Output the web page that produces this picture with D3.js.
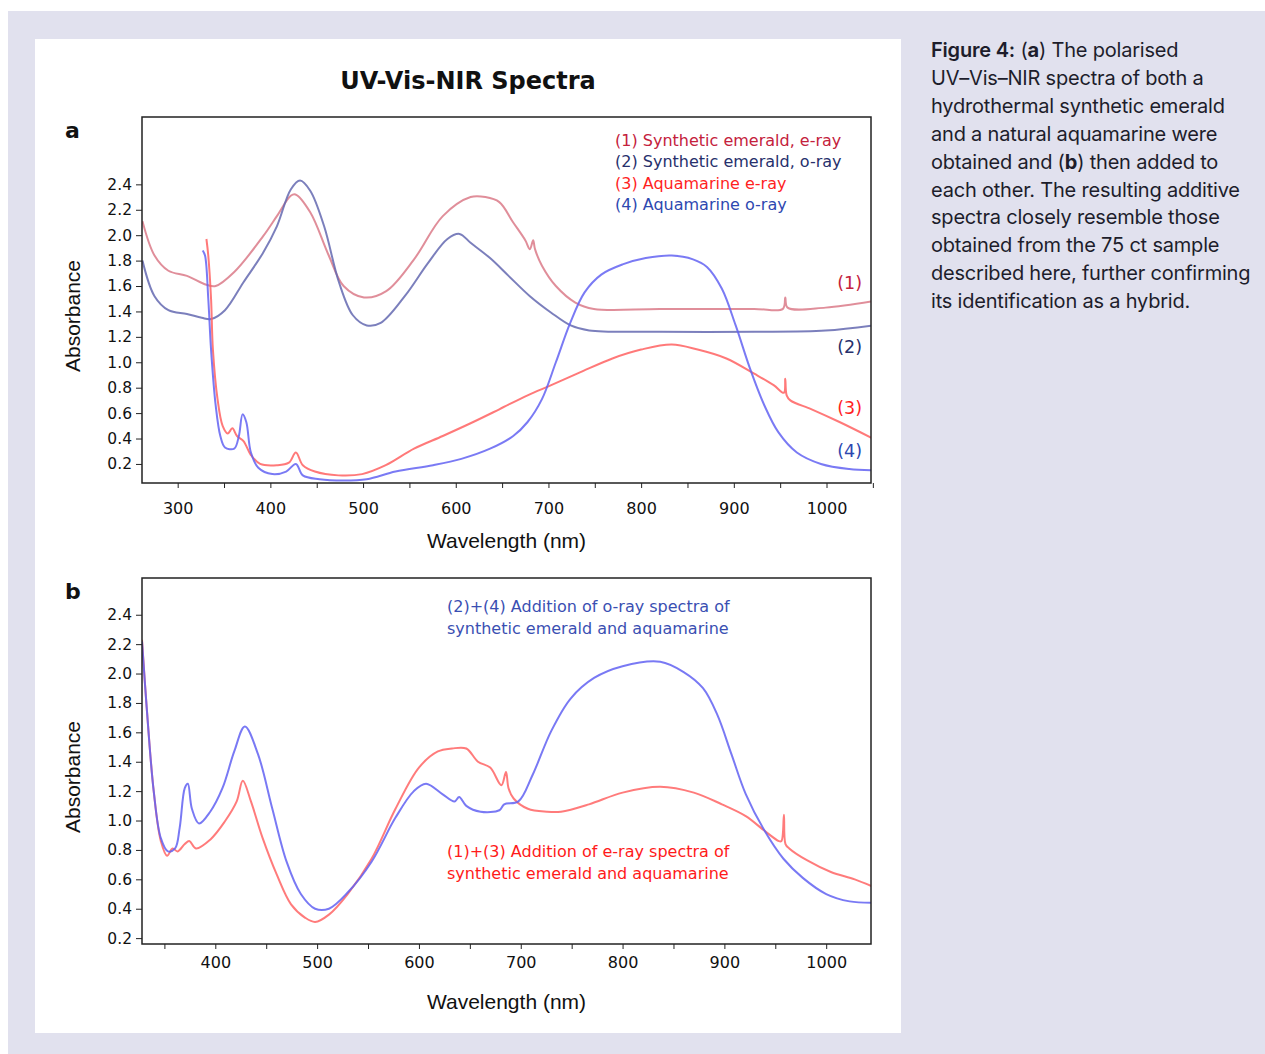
<!DOCTYPE html>
<html>
<head>
<meta charset="utf-8">
<script src="https://cdn.jsdelivr.net/npm/d3@7"></script>
<style>
  html, body { margin: 0; padding: 0; background: #ffffff; }
  svg { display: block; }
</style>
</head>
<body>
<svg id="chart" width="1265" height="1054"></svg>
<script>
// ---------------- DATA ----------------
// Panel a: (1) Synthetic emerald, e-ray
const waveA1 = [262,275,290,310,331,341,361,392,407,422,427,443,463,479,501,525,555,586,616,632,647,662,675,680,683.5,685.5,693,708,729,749,820,922,953,955.5,958,999,1050];
const absA1  = [2.11,1.84,1.72,1.68,1.61,1.60,1.71,1.99,2.15,2.31,2.32,2.18,1.84,1.60,1.51,1.56,1.81,2.15,2.30,2.30,2.26,2.10,1.96,1.89,1.96,1.89,1.76,1.60,1.47,1.42,1.42,1.42,1.42,1.51,1.43,1.43,1.48];
// (2) Synthetic emerald, o-ray
const waveA2 = [262,275,290,310,326,336,351,371,392,407,422,432,443,458,474,489,504,519,545,570,591,604,616,637,657,680,703,724,744,820,922,999,1050];
const absA2  = [1.80,1.52,1.41,1.38,1.35,1.34,1.41,1.63,1.86,2.07,2.36,2.43,2.35,2.07,1.63,1.37,1.29,1.31,1.52,1.78,1.97,2.01,1.94,1.82,1.68,1.52,1.39,1.29,1.25,1.24,1.24,1.25,1.29];
// (3) Aquamarine e-ray
const waveA3 = [331,333,336,338,343,348.5,354,359,364,371,379,389,407,420,427.5,435,448,473.5,499,524.5,555,586,616,647,677.5,703,734,769,800,833,861,892,922,943,954,955.5,957,961,984,1014,1050];
const absA3  = [1.97,1.84,1.50,1.10,0.71,0.50,0.44,0.48,0.42,0.38,0.27,0.20,0.19,0.21,0.29,0.19,0.14,0.11,0.12,0.19,0.32,0.42,0.52,0.63,0.74,0.82,0.92,1.03,1.10,1.14,1.10,1.03,0.91,0.82,0.76,0.87,0.74,0.70,0.63,0.53,0.40];
// (4) Aquamarine o-ray
const waveA4 = [327,329.5,333,336,341,346,351,361,366,370,374,379,387,402,417,427.5,435,453,478.5,504,535,575.5,606,637,662,677.5,693,708,723.5,739,757,780,805,833,856,871,887,902,917.5,933,948,968,994,1024.5,1050];
const absA4  = [1.88,1.84,1.50,1.10,0.66,0.42,0.33,0.32,0.42,0.59,0.53,0.29,0.17,0.12,0.14,0.20,0.11,0.08,0.07,0.08,0.14,0.19,0.24,0.32,0.42,0.53,0.71,1.00,1.31,1.55,1.69,1.77,1.82,1.84,1.81,1.75,1.58,1.29,0.95,0.66,0.45,0.29,0.20,0.16,0.15];

// Panel b: (2)+(4) o-ray sum
const waveBo = [328,332.6,339.5,346.5,353.5,360.5,365,370,373,377,384,395,407,418.6,429,442,456,470,484,498,511.6,530,553.5,577,595,607,623,635,639.5,646.5,660.5,679,683.7,697.7,711.6,730,749,772,800,837,860,879,893,907,921,939.5,958,977,1000,1023,1046];
const absBo  = [2.22,1.77,1.20,0.88,0.79,0.81,0.95,1.22,1.25,1.08,0.98,1.06,1.22,1.47,1.64,1.45,1.08,0.72,0.50,0.40,0.40,0.51,0.72,1.02,1.20,1.25,1.18,1.13,1.16,1.10,1.06,1.07,1.11,1.13,1.31,1.61,1.83,1.97,2.05,2.08,2.01,1.90,1.72,1.45,1.18,0.93,0.74,0.61,0.50,0.45,0.44];
// (1)+(3) e-ray sum
const waveBe = [328,332.6,339.5,346.5,352.6,358,363,370,374.4,381,395,409,421,427,435,446.5,460.5,474.4,488,498,511.6,530,553.5,577,600,618.6,632.5,646.5,658,670,681,685.5,688,693,707,725.6,739.5,767,800,837,870,897.6,921,939.5,953.5,956,958.5,960,963.7,981,1004.6,1028,1046];
const absBe  = [2.23,1.77,1.20,0.86,0.76,0.81,0.79,0.84,0.86,0.81,0.87,0.99,1.13,1.27,1.13,0.88,0.63,0.43,0.34,0.31,0.36,0.50,0.74,1.08,1.36,1.47,1.49,1.49,1.40,1.36,1.24,1.33,1.22,1.15,1.08,1.06,1.06,1.11,1.19,1.23,1.19,1.11,1.03,0.93,0.86,0.86,1.04,0.84,0.81,0.73,0.65,0.60,0.55];

// Ticks and labels
const yTicks = [0.2,0.4,0.6,0.8,1.0,1.2,1.4,1.6,1.8,2.0,2.2,2.4];
const xTicksA = [300,350,400,450,500,550,600,650,700,750,800,850,900,950,1000,1050];
const xTicksB = [350,400,450,500,550,600,650,700,750,800,850,900,950,1000];
const legendLabels = ["(1) Synthetic emerald, e-ray","(2) Synthetic emerald, o-ray","(3) Aquamarine e-ray","(4) Aquamarine o-ray"];
const curveTags = ["(1)","(2)","(3)","(4)"];
const noteO = ["(2)+(4) Addition of o-ray spectra of","synthetic emerald and aquamarine"];
const noteE = ["(1)+(3) Addition of e-ray spectra of","synthetic emerald and aquamarine"];
const captionLines = [
  [["Figure 4:",600],[" (",400],["a",700],[") The polarised",400]],
  [["UV–Vis–NIR spectra of both a",400]],
  [["hydrothermal synthetic emerald",400]],
  [["and a natural aquamarine were",400]],
  [["obtained and (",400],["b",700],[") then added to",400]],
  [["each other. The resulting additive",400]],
  [["spectra closely resemble those",400]],
  [["obtained from the 75 ct sample",400]],
  [["described here, further confirming",400]],
  [["its identification as a hybrid.",400]]
];

// ---------------- DRAW ----------------
const svg = d3.select("#chart");
const chartFont = "'DejaVu Sans', sans-serif";
const titleFont = "'Liberation Sans', Arial, sans-serif";

svg.append("rect").attr("x",0).attr("y",0).attr("width",1265).attr("height",1054).attr("fill","#ffffff");
svg.append("rect").attr("x",8).attr("y",11).attr("width",1257).attr("height",1043).attr("fill","#e1e1ee");
svg.append("rect").attr("x",35).attr("y",39).attr("width",866).attr("height",994).attr("fill","#ffffff");

// Title
svg.append("text").attr("x",468).attr("y",89).attr("text-anchor","middle")
  .attr("font-family",chartFont).attr("font-weight","bold").attr("font-size",24).attr("fill","#111")
  .text("UV-Vis-NIR Spectra");

const zip = (w,a) => w.map((d,i) => [d, a[i]]);

function panel(cfg) {
  const x = d3.scaleLinear().domain(cfg.xDomain).range([cfg.left, cfg.right]);
  const y = d3.scaleLinear().domain(cfg.yDomain).range([cfg.bottom, cfg.top]);
  const g = svg.append("g");
  const clipId = "clip" + cfg.id;
  svg.append("clipPath").attr("id", clipId).append("rect")
    .attr("x", cfg.left).attr("y", cfg.top).attr("width", cfg.right - cfg.left).attr("height", cfg.bottom - cfg.top);

  // y axis
  const ya = g.append("g").attr("transform", `translate(${cfg.left},0)`)
    .call(d3.axisLeft(y).tickValues(yTicks).tickSize(6).tickPadding(4).tickFormat(d3.format(".1f")));
  ya.select(".domain").remove();
  ya.selectAll("text").attr("font-family", chartFont).attr("font-size", 15.5).attr("fill", "#111");
  ya.selectAll("line").attr("stroke", "#222");

  // x axis
  const xa = g.append("g").attr("transform", `translate(0,${cfg.bottom})`)
    .call(d3.axisBottom(x).tickValues(cfg.xTicks).tickSize(5).tickPadding(cfg.xPad)
      .tickFormat(d => d % 100 === 0 ? d : ""));
  xa.select(".domain").remove();
  xa.selectAll("text").attr("font-family", chartFont).attr("font-size", 16).attr("fill", "#111");
  xa.selectAll("line").attr("stroke", "#222");

  // lines
  const line = d3.line().x(d => x(d[0])).y(d => y(d[1])).curve(d3.curveCatmullRom.alpha(0.5));
  const lg = g.append("g").attr("clip-path", `url(#${clipId})`);
  cfg.series.forEach(s => {
    lg.append("path").datum(zip(s.w, s.a)).attr("d", line)
      .attr("fill", "none").attr("stroke", s.color).attr("stroke-width", 2)
      .attr("stroke-opacity", 0.85).attr("stroke-linejoin", "round");
  });

  // frame
  g.append("rect").attr("x", cfg.left).attr("y", cfg.top)
    .attr("width", cfg.right - cfg.left).attr("height", cfg.bottom - cfg.top)
    .attr("fill", "none").attr("stroke", "#222").attr("stroke-width", 1.5);

  // axis titles
  g.append("text").attr("x", (cfg.left + cfg.right) / 2).attr("y", cfg.xTitleY).attr("text-anchor", "middle")
    .attr("font-family", titleFont).attr("font-size", 21).attr("fill", "#111").text("Wavelength (nm)");
  g.append("text").attr("transform", `translate(80,${(cfg.top + cfg.bottom) / 2 + 16}) rotate(-90)`)
    .attr("text-anchor", "middle").attr("font-family", titleFont).attr("font-size", 21).attr("fill", "#111").text("Absorbance");
  // panel letter
  g.append("text").attr("x", 65).attr("y", cfg.top + 21).attr("font-family", chartFont)
    .attr("font-weight", "bold").attr("font-size", 22).attr("fill", "#111").text(cfg.letter);
  return {x, y, g};
}

const pa = panel({
  id: "a", letter: "a", left: 142, right: 871, top: 117, bottom: 483,
  xDomain: [261.5, 1048], yDomain: [0.05, 2.93], xTicks: xTicksA, xTitleY: 548, xPad: 15,
  series: [
    {w: waveA1, a: absA1, color: "#da7a88"},
    {w: waveA2, a: absA2, color: "#6468b0"},
    {w: waveA3, a: absA3, color: "#ff6262"},
    {w: waveA4, a: absA4, color: "#6363f2"}
  ]
});

const legendColors = ["#c4213c", "#27306c", "#ff1f1f", "#2d48b0"];
legendLabels.forEach((t, i) => {
  pa.g.append("text").attr("x", 615).attr("y", 146 + i * 21.3)
    .attr("font-family", chartFont).attr("font-size", 16).attr("fill", legendColors[i]).text(t);
});
const tagY = [289, 353, 414, 457];
curveTags.forEach((t, i) => {
  pa.g.append("text").attr("x", 862).attr("y", tagY[i]).attr("text-anchor", "end")
    .attr("font-family", chartFont).attr("font-size", 17.5).attr("fill", legendColors[i]).text(t);
});

const pb = panel({
  id: "b", letter: "b", left: 142, right: 871, top: 578, bottom: 944,
  xDomain: [328, 1044], yDomain: [0.16, 2.65], xTicks: xTicksB, xTitleY: 1009, xPad: 8,
  series: [
    {w: waveBe, a: absBe, color: "#ff6464"},
    {w: waveBo, a: absBo, color: "#6262f2"}
  ]
});
noteO.forEach((t, i) => {
  pb.g.append("text").attr("x", 447).attr("y", 612 + i * 21.5)
    .attr("font-family", chartFont).attr("font-size", 16).attr("fill", "#3a4fb2").text(t);
});
noteE.forEach((t, i) => {
  pb.g.append("text").attr("x", 447).attr("y", 857 + i * 21.5)
    .attr("font-family", chartFont).attr("font-size", 16).attr("fill", "#ff1a1a").text(t);
});

// Caption
captionLines.forEach((parts, i) => {
  const t = svg.append("text").attr("x", 931).attr("y", 57 + i * 27.9)
    .attr("font-family", "Inter, 'Open Sans', sans-serif").attr("font-size", 20)
    .attr("fill", "#1d1d2b").attr("letter-spacing", "-0.2");
  parts.forEach(p => t.append("tspan").attr("font-weight", p[1]).text(p[0]));
});
</script>
</body>
</html>
